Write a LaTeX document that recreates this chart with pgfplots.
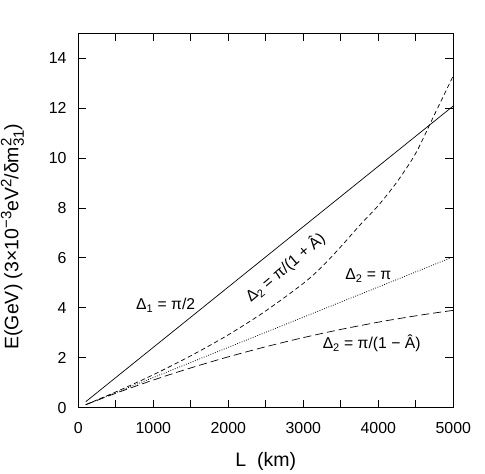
\documentclass[border=0pt]{standalone}
\usepackage{pgfplots}
\pgfplotsset{compat=1.18}
\usepackage{fontspec}
\setmainfont{Liberation Sans}
\newcommand\sups[1]{\raisebox{0.36em}{\fontsize{15}{16}\selectfont #1}}
\newcommand\subs[1]{\raisebox{-0.28em}{\fontsize{15}{16}\selectfont #1}}
\begin{document}
\begin{tikzpicture}
\useasboundingbox (-78.3pt,-66.3pt) rectangle (406.7pt,407.7pt);
\begin{axis}[
 scale only axis, width=375pt, height=374.4pt,
 xmin=0, xmax=5000, ymin=0, ymax=15,
 xtick={0,500,...,5000}, xticklabels={0,,1000,,2000,,3000,,4000,,5000},
 ytick={0,2,...,14},
 tick align=inside, major tick length=8pt,
 tick style={line width=0.9pt, black},
 axis line style={line width=1.1pt},
 /pgf/number format/assume math mode=true,
 ticklabel style={font=\fontsize{15.9}{18}\selectfont},
 xticklabel style={anchor=north, inner sep=0pt, yshift=-14pt},
 yticklabel style={anchor=east, inner sep=0pt, xshift=-11.6pt},
 xlabel={L\ \ (km)},
 ylabel={E(GeV) (3×10\sups{−3}eV\sups{2}/δm\rlap{\sups{2}}\subs{31})},
 label style={font=\fontsize{19.5}{22}\selectfont},
 xlabel style={at={([yshift=-58.3pt]axis description cs:0.5,0)}, anchor=base},
 ylabel style={at={([xshift=-59.8pt]axis description cs:0,0.457)}, anchor=base},
]
% Delta_1 = pi/2
\addplot[black, line width=0.7pt] coordinates {(100,0.2418) (5000,12.09)};
% Delta_2 = pi
\addplot[black, line width=0.8pt, dash pattern=on 0.8pt off 1.6pt] coordinates {(100,0.1209) (5000,6.045)};
% Delta_2 = pi/(1+A)
\addplot[black, line width=0.7pt, dash pattern=on 4.5pt off 3pt, smooth] coordinates {
(100,0.122) (500,0.633) (1000,1.320) (1500,2.08) (2000,2.92) (2500,3.88)
(3000,4.98) (3250,5.65) (3500,6.45) (3750,7.3) (4000,8.1) (4250,9.05) (4500,10.2) (4750,11.75) (5000,13.30)};
% Delta_2 = pi/(1-A)
\addplot[black, line width=0.7pt, dash pattern=on 8pt off 4pt, smooth] coordinates {
(100,0.1198) (500,0.578) (1000,1.108) (1500,1.594) (2000,2.038) (2500,2.442)
(3000,2.808) (3500,3.136) (4000,3.427) (4250,3.558) (4500,3.681) (4750,3.795) (5000,3.90)};
\node[font=\fontsize{15.7}{18}\selectfont] at (axis cs:1165,4.11) {Δ\textsubscript{1} = π/2};
\node[font=\fontsize{15.7}{18}\selectfont, rotate=40] at (axis cs:2760,5.62) {Δ\textsubscript{2} = π/(1 + Â)};
\node[font=\fontsize{15.7}{18}\selectfont] at (axis cs:3867,5.28) {Δ\textsubscript{2} = π};
\node[font=\fontsize{15.7}{18}\selectfont] at (axis cs:3911,2.58) {Δ\textsubscript{2} = π/(1 − Â)};
\end{axis}
\end{tikzpicture}
\end{document}
